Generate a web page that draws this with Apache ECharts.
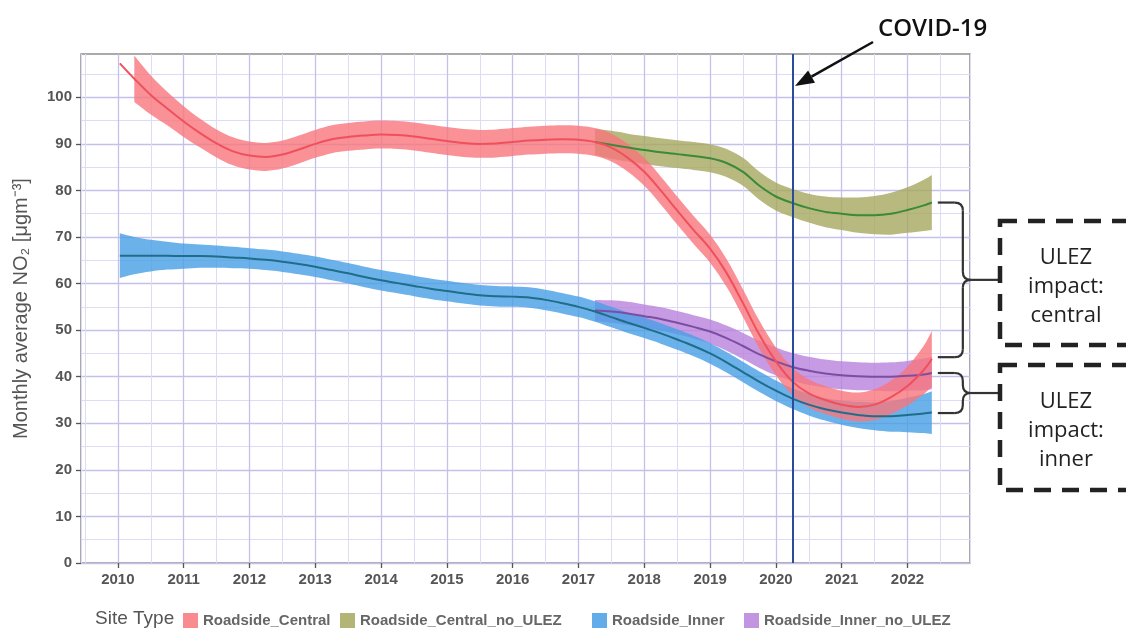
<!DOCTYPE html>
<html>
<head>
<meta charset="utf-8">
<script src="https://cdn.jsdelivr.net/npm/echarts@6/dist/echarts.min.js"></script>
<style>
  html, body { margin: 0; padding: 0; background: #ffffff; }
  #chart { width: 1126px; height: 639px; }
</style>
</head>
<body>
<div id="chart"></div>
<script>
// ---------------- data ----------------
// quarterly x positions (years) for the full-period series
const xQuarter = [2010.03, 2010.25, 2010.5, 2010.75,
  2011, 2011.25, 2011.5, 2011.75, 2012, 2012.25, 2012.5, 2012.75,
  2013, 2013.25, 2013.5, 2013.75, 2014, 2014.25, 2014.5, 2014.75,
  2015, 2015.25, 2015.5, 2015.75, 2016, 2016.25, 2016.5, 2016.75,
  2017, 2017.25, 2017.5, 2017.75, 2018, 2018.25, 2018.5, 2018.75,
  2019, 2019.25, 2019.5, 2019.75, 2020, 2020.25, 2020.5, 2020.75,
  2021, 2021.25, 2021.5, 2021.75, 2022, 2022.25, 2022.37];

// x positions for the counterfactual (no ULEZ) series
const xBranch = [2017.25, 2017.5, 2017.75, 2018, 2018.25, 2018.5, 2018.75,
  2019, 2019.25, 2019.5, 2019.75, 2020, 2020.25, 2020.5, 2020.75,
  2021, 2021.25, 2021.5, 2021.75, 2022, 2022.25, 2022.37];

const centralMid = [107.3, 104, 100.5, 97.6,
  94.8, 92.3, 90.1, 88.4, 87.5, 87.2, 87.7, 88.8,
  90, 91, 91.5, 91.8, 92, 91.9, 91.6, 91.1,
  90.6, 90.2, 90, 90.1, 90.4, 90.7, 90.9, 91,
  90.9, 90.4, 89.2, 87, 84, 80, 75.7, 71.5,
  67.5, 62.3, 55.8, 49, 43.3, 39, 36.4, 35,
  34, 33.5, 34, 35.6, 38, 41.5, 43.8];
const centralHalf = [null, 5, 4.2, 3.6,
  3.3, 3.1, 3, 3, 3, 3, 3, 3,
  3, 3, 3, 3, 3, 3, 3, 3,
  3, 3, 3, 3, 3, 3, 3, 3,
  3, 3, 3, 3, 3, 3, 3, 3,
  3, 3, 3, 3, 3, 3, 3, 3,
  3, 3.1, 3.3, 3.6, 4.2, 5.2, 6];

const innerMid = [66, 66, 66, 66,
  65.9, 65.9, 65.8, 65.6, 65.4, 65.1, 64.7, 64.2,
  63.6, 62.9, 62.2, 61.4, 60.7, 60.1, 59.5, 58.9,
  58.4, 57.9, 57.5, 57.3, 57.2, 57, 56.5, 55.8,
  55, 54, 52.8, 51.6, 50.5, 49.3, 48, 46.6,
  45, 43.1, 41, 38.9, 37, 35.3, 34, 33,
  32.3, 31.8, 31.5, 31.5, 31.8, 32.1, 32.3];
const innerHalf = [4.8, 4, 3.4, 3,
  2.7, 2.5, 2.4, 2.3, 2.2, 2.2, 2.2, 2.2,
  2.2, 2.2, 2.2, 2.2, 2.2, 2.2, 2.2, 2.2,
  2.2, 2.2, 2.2, 2.2, 2.2, 2.2, 2.2, 2.2,
  2.2, 2.2, 2.2, 2.2, 2.2, 2.2, 2.2, 2.2,
  2.2, 2.2, 2.2, 2.2, 2.2, 2.2, 2.3, 2.4,
  2.6, 2.8, 3, 3.3, 3.7, 4.2, 4.6];

const centralNoUlezMid = [90.4, 89.8, 89.2, 88.7, 88.2, 87.8, 87.4,
  86.9, 85.9, 84, 81, 78.7, 77.3, 76.2, 75.4,
  75, 74.7, 74.7, 75, 75.8, 76.8, 77.4];
const centralNoUlezHalf = [2.8, 3, 3, 3, 3, 3, 3,
  3, 3, 3, 3, 3, 3, 3.1, 3.3,
  3.5, 3.8, 4.1, 4.5, 4.9, 5.5, 5.9];

const innerNoUlezMid = [54.2, 54, 53.6, 53, 52.4, 51.6, 50.7,
  49.7, 48.3, 46.6, 44.8, 43.3, 42.1, 41.3, 40.7,
  40.3, 40.1, 40, 40, 40.2, 40.5, 40.8];
const innerNoUlezHalf = [2.3, 2.4, 2.5, 2.5, 2.5, 2.5, 2.5,
  2.6, 2.7, 2.8, 2.9, 3, 3, 3, 3,
  3, 3, 3, 3.1, 3.2, 3.4, 3.5];

const seriesNames = ['Roadside_Central', 'Roadside_Central_no_ULEZ', 'Roadside_Inner', 'Roadside_Inner_no_ULEZ'];
const xTicks = [2010, 2011, 2012, 2013, 2014, 2015, 2016, 2017, 2018, 2019, 2020, 2021, 2022];
const yTicks = [0, 10, 20, 30, 40, 50, 60, 70, 80, 90, 100];
const covidYear = 2020.26;
const braceCentral = [77.4, 44.2];   // range marked by the "central" brace
const braceInner = [40.8, 32.2];     // range marked by the "inner" brace

// ---------------- styling ----------------
const FONT = '"Liberation Sans", Arial, sans-serif';
const colors = {
  Roadside_Central: { band: 'rgb(248,118,125)', line: '#f0505c' },
  Roadside_Central_no_ULEZ: { band: 'rgb(166,168,94)', line: '#3a8a3a' },
  Roadside_Inner: { band: 'rgb(71,159,229)', line: '#1f6d88' },
  Roadside_Inner_no_ULEZ: { band: 'rgb(185,130,220)', line: '#7b4ea3' }
};
const BAND_OPACITY = 0.8;
const SMOOTH = 0.35;

function bandSeries(name, xs, mid, half) {
  const idx = [];
  for (let i = 0; i < xs.length; i++) if (half[i] != null) idx.push(i);
  return {
    type: 'custom',
    name: name,
    xAxisIndex: 1,
    yAxisIndex: 0,
    silent: true,
    clip: true,
    itemStyle: { color: colors[name].band, opacity: BAND_OPACITY },
    data: [[xs[idx[0]], mid[idx[0]]]],
    encode: { x: 0, y: 1 },
    renderItem: function (params, api) {
      const up = [], lo = [];
      idx.forEach(function (i) {
        up.push(api.coord([xs[i], mid[i] + half[i]]));
        lo.push(api.coord([xs[i], mid[i] - half[i]]));
      });
      lo.reverse();
      // duplicate end points so the ribbon keeps straight vertical ends
      const pts = [up[0]].concat(up, [up[up.length - 1], lo[0]], lo, [lo[lo.length - 1]]);
      return {
        type: 'polygon',
        shape: { points: pts, smooth: SMOOTH },
        style: { fill: colors[name].band, opacity: BAND_OPACITY }
      };
    }
  };
}

function lineSeries(name, xs, mid, extra) {
  const s = {
    type: 'line',
    name: name,
    xAxisIndex: 1,
    yAxisIndex: 0,
    data: xs.map(function (x, i) { return [x, mid[i]]; }),
    showSymbol: false,
    symbol: 'none',
    smooth: SMOOTH,
    silent: true,
    lineStyle: { color: colors[name].line, width: 2 },
    itemStyle: { color: colors[name].band }
  };
  return Object.assign(s, extra || {});
}

const majorGrid = '#c4c0ec';
const minorGrid = '#dedbf4';

function legendFor(name, left) {
  return {
    left: left, top: 613, itemWidth: 15, itemHeight: 15, icon: 'rect',
    selectedMode: false, padding: 0,
    data: [{ name: name, itemStyle: { color: colors[name].band, opacity: 0.85 } }],
    textStyle: { fontFamily: FONT, fontSize: 15, fontWeight: 'bold', color: '#666' }
  };
}

const chart = echarts.init(document.getElementById('chart'), null, { renderer: 'canvas' });

const option = {
  animation: false,
  backgroundColor: '#ffffff',
  textStyle: { fontFamily: FONT },
  title: {
    text: 'Site Type', left: 95, top: 609, padding: 0,
    textStyle: { fontFamily: FONT, fontSize: 19, fontWeight: 'normal', color: '#555' }
  },
  legend: [
    legendFor('Roadside_Central', 183),
    legendFor('Roadside_Central_no_ULEZ', 340),
    legendFor('Roadside_Inner', 592),
    legendFor('Roadside_Inner_no_ULEZ', 744)
  ],
  grid: {
    left: 81, top: 54, right: 156, bottom: 76,
    show: true, borderColor: '#8e8e8e', borderWidth: 1.5, backgroundColor: '#ffffff',
    containLabel: false, outerBoundsMode: 'none'
  },
  xAxis: [
    { // minor grid (half years)
      type: 'value', min: 2009.44, max: 2022.95, minInterval: 0.5, maxInterval: 0.5,
      position: 'top',
      axisLine: { show: false }, axisTick: { show: false }, axisLabel: { show: false },
      splitLine: { show: true, lineStyle: { color: minorGrid, width: 1 } }
    },
    { // major axis (years)
      type: 'value', min: 2009.44, max: 2022.95, minInterval: 1, maxInterval: 1,
      position: 'bottom',
      axisLine: { show: false },
      axisTick: { show: true, length: 5, customValues: xTicks, lineStyle: { color: '#555', width: 1.3 } },
      axisLabel: {
        customValues: xTicks, margin: 9, fontSize: 15, fontWeight: 'bold', color: '#555',
        formatter: function (v) { return String(Math.round(v)); }
      },
      splitLine: { show: true, lineStyle: { color: majorGrid, width: 1.3 } }
    }
  ],
  yAxis: [{
    type: 'value', min: 0, max: 109.3, interval: 10, position: 'left',
    name: 'Monthly average NO\u2082 [\u03bcgm\u207b\u00b3]',
    nameLocation: 'middle', nameGap: 50, nameRotate: 90,
    nameTextStyle: { fontFamily: FONT, fontSize: 20, color: '#555' },
    axisLine: { show: false },
    axisTick: { show: true, length: 5, customValues: yTicks, lineStyle: { color: '#555', width: 1.3 } },
    axisLabel: { customValues: yTicks, margin: 9, fontSize: 15, fontWeight: 'bold', color: '#555' },
    splitLine: { show: true, lineStyle: { color: majorGrid, width: 1.3 } },
    minorTick: { show: false, splitNumber: 2 },
    minorSplitLine: { show: true, lineStyle: { color: minorGrid, width: 1 } }
  }],
  series: [
    bandSeries('Roadside_Central_no_ULEZ', xBranch, centralNoUlezMid, centralNoUlezHalf),
    lineSeries('Roadside_Central_no_ULEZ', xBranch, centralNoUlezMid),
    bandSeries('Roadside_Inner_no_ULEZ', xBranch, innerNoUlezMid, innerNoUlezHalf),
    lineSeries('Roadside_Inner_no_ULEZ', xBranch, innerNoUlezMid),
    bandSeries('Roadside_Inner', xQuarter, innerMid, innerHalf),
    lineSeries('Roadside_Inner', xQuarter, innerMid),
    bandSeries('Roadside_Central', xQuarter, centralMid, centralHalf),
    lineSeries('Roadside_Central', xQuarter, centralMid, {
      markLine: {
        silent: true, symbol: ['none', 'none'], label: { show: false },
        lineStyle: { color: '#2b4c98', width: 2, type: 'solid' },
        data: [{ xAxis: covidYear }]
      }
    })
  ]
};
chart.setOption(option);

// ---------------- annotations ----------------
function px(x, y) { return chart.convertToPixel({ xAxisIndex: 1, yAxisIndex: 0 }, [x, y]); }

const BRACE_STYLE = { fill: null, stroke: '#333', lineWidth: 2.2 };
function braceElements(range, endYear) {
  const yT = px(endYear, range[0])[1];
  const yB = px(endYear, range[1])[1];
  const x0 = px(endYear, 0)[0] + 6;
  const xv = x0 + 25;
  const r = Math.min(8, (yB - yT) / 4);
  const yM = (yT + yB) / 2;
  const xEnd = 998;
  function ln(a, b, c, d) { return { type: 'line', silent: true, shape: { x1: a, y1: b, x2: c, y2: d }, style: BRACE_STYLE }; }
  function qc(a, b, cx, cy, c, d) { return { type: 'bezierCurve', silent: true, shape: { x1: a, y1: b, cpx1: cx, cpy1: cy, x2: c, y2: d }, style: BRACE_STYLE }; }
  return [
    ln(x0, yT, xv - r, yT),
    qc(xv - r, yT, xv, yT, xv, yT + r),
    ln(xv, yT + r, xv, yM - r),
    qc(xv, yM - r, xv, yM, xv + r, yM),
    ln(xv + r, yM, xEnd, yM),
    qc(xv + r, yM, xv, yM, xv, yM + r),
    ln(xv, yM + r, xv, yB - r),
    qc(xv, yB - r, xv, yB, xv - r, yB),
    ln(xv - r, yB, x0, yB)
  ];
}

const endYear = xQuarter[xQuarter.length - 1];
const covidPx = px(covidYear, 0)[0];
const tip = [covidPx + 2, 86];
const tail = [873, 42];
const dx = tip[0] - tail[0], dy = tip[1] - tail[1];
const L = Math.sqrt(dx * dx + dy * dy);
const ux = dx / L, uy = dy / L;
const hl = 19, hw = 7;
const bx = tip[0] - ux * hl, by = tip[1] - uy * hl;
const head = [tip, [bx - uy * hw, by + ux * hw], [bx + uy * hw, by - ux * hw]];

const textStyleBox = { font: '22px "Open Sans", "Noto Sans", sans-serif', fill: '#222', align: 'center', verticalAlign: 'middle', lineHeight: 29 };

const annotations = [].concat(
  braceElements(braceCentral, endYear),
  braceElements(braceInner, endYear),
  [
    { type: 'rect', silent: true, shape: { x: 1000, y: 221, width: 145, height: 124 },
      style: { fill: null, stroke: '#222', lineWidth: 4.5, lineDash: [17, 11] } },
    { type: 'rect', silent: true, shape: { x: 1000, y: 365, width: 145, height: 125 },
      style: { fill: null, stroke: '#222', lineWidth: 4.5, lineDash: [17, 11] } },
    { type: 'text', silent: true, style: Object.assign({ text: 'ULEZ\nimpact:\ncentral', x: 1066, y: 287 }, textStyleBox) },
    { type: 'text', silent: true, style: Object.assign({ text: 'ULEZ\nimpact:\ninner', x: 1066, y: 431 }, textStyleBox) },
    { type: 'text', silent: true, style: { text: 'COVID-19', x: 878, y: 29, font: '600 24px "Open Sans", "Noto Sans", sans-serif', fill: '#111', align: 'left', verticalAlign: 'middle' } },
    { type: 'line', silent: true, shape: { x1: tail[0], y1: tail[1], x2: bx, y2: by },
      style: { stroke: '#111', lineWidth: 2.5 } },
    { type: 'polygon', silent: true, shape: { points: head }, style: { fill: '#111' } }
  ]
);

chart.setOption({ graphic: annotations });
</script>
</body>
</html>
